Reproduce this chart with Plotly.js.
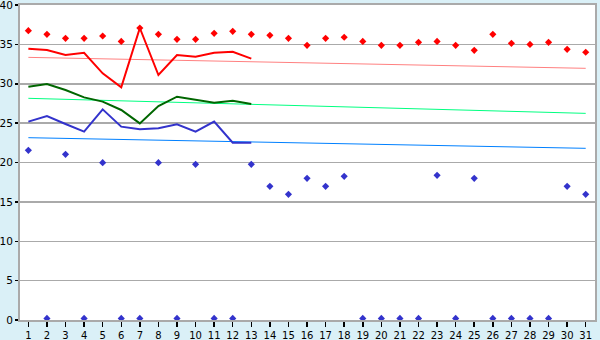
<!DOCTYPE html>
<html><head><meta charset="utf-8">
<script src="https://cdn.plot.ly/plotly-3.0.1.min.js"></script>
<style>html,body{margin:0;padding:0;background:#daf0f7;}#c{width:600px;height:340px;}</style>
</head><body><div id="c"></div>
<script>
const days = Array.from({length:31},(_,i)=>i+1);
const daysLine = days.slice(0,13);
const redPoints = [36.74,36.27,35.77,35.77,36.06,35.38,37.08,36.27,35.64,35.64,36.4,36.66,36.27,36.15,35.77,34.88,35.77,35.9,35.38,34.88,34.88,35.26,35.38,34.88,34.24,36.27,35.13,35.0,35.26,34.37,34.0];
const bluePoints = [21.54,0.2,21.04,0.2,19.98,0.2,0.2,19.98,0.2,19.77,0.2,0.2,19.77,16.97,15.96,17.99,16.97,18.24,0.2,0.2,0.2,0.2,18.37,0.2,17.99,0.2,0.2,0.2,0.2,16.97,15.96];
const redLine = [34.46,34.29,33.65,33.94,31.32,29.54,37.08,31.11,33.65,33.44,33.94,34.07,33.19];
const greenLine = [29.63,29.97,29.2,28.27,27.73,26.67,24.97,27.17,28.36,28.02,27.6,27.85,27.43];
const blueLine = [25.19,25.9,24.89,23.92,26.75,24.55,24.21,24.34,24.85,23.92,25.19,22.52,22.52];
const trendDays = [1,31];
const redTrend = [33.35,31.96];
const greenTrend = [28.15,26.24];
const blueTrend = [23.15,21.8];

const traces = [
 {x:trendDays,y:redTrend,mode:'lines',line:{color:'#ff8080',width:1}},
 {x:trendDays,y:greenTrend,mode:'lines',line:{color:'#00ff80',width:1}},
 {x:trendDays,y:blueTrend,mode:'lines',line:{color:'#0080ff',width:1}},
 {x:daysLine,y:redLine,mode:'lines',line:{color:'#ff0000',width:2}},
 {x:daysLine,y:greenLine,mode:'lines',line:{color:'#006600',width:2}},
 {x:daysLine,y:blueLine,mode:'lines',line:{color:'#3333cc',width:2}},
 {x:days,y:redPoints,mode:'markers',marker:{symbol:'diamond',size:5.5,color:'#ff0000'},cliponaxis:false},
 {x:days,y:bluePoints,mode:'markers',marker:{symbol:'diamond',size:5.5,color:'#3333cc'},cliponaxis:false}
];
const layout = {
 width:600,height:340,
 margin:{l:20,r:5,t:5,b:20,pad:0},
 paper_bgcolor:'#daf0f7',plot_bgcolor:'#ffffff',
 showlegend:false,
 font:{family:'DejaVu Sans, Verdana, sans-serif',size:10,color:'#000'},
 xaxis:{range:[0.55,31.5],tickvals:days,ticktext:days.map(String),showgrid:false,zeroline:false,automargin:false,
   showline:true,linecolor:'#aaaaaa',linewidth:2,mirror:true,ticks:'outside',ticklen:5,tickcolor:'#000',tickwidth:1.5,fixedrange:true,
   ticklabeloverflow:'allow'},
 yaxis:{range:[0,40],dtick:5,showgrid:true,gridcolor:'#aaaaaa',gridwidth:1.5,zeroline:false,automargin:false,
   showline:true,linecolor:'#aaaaaa',linewidth:2,mirror:true,ticks:'outside',ticklen:3,tickcolor:'#000',tickwidth:1.5,fixedrange:true,
   ticklabeloverflow:'allow',tickfont:{size:10.5}}
};
Plotly.newPlot('c',traces,layout,{displayModeBar:false,staticPlot:true});
</script></body></html>
